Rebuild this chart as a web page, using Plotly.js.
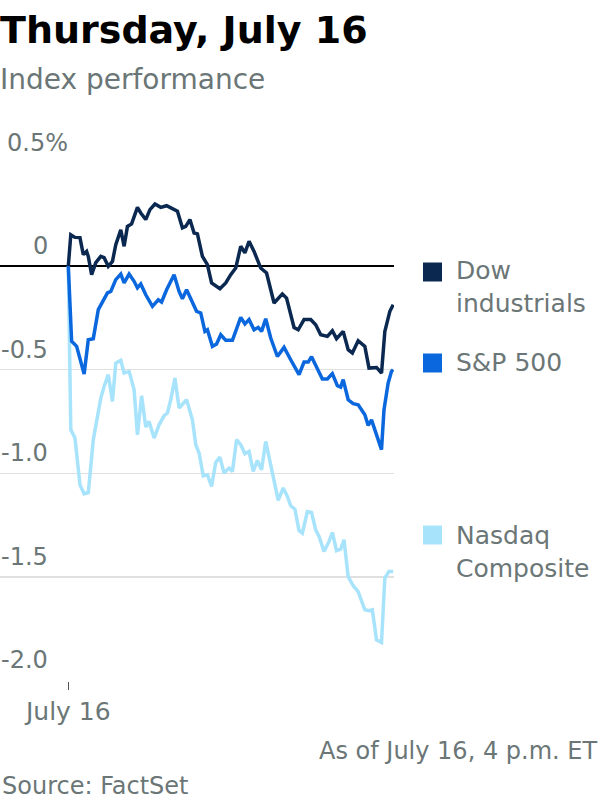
<!DOCTYPE html>
<html>
<head>
<meta charset="utf-8">
<script src="https://cdn.plot.ly/plotly-3.0.1.min.js"></script>
<style>html,body{margin:0;padding:0;background:#fff;}#chart{width:600px;height:800px;}</style>
</head>
<body>
<div id="chart"></div>
<script>
// Minutes after the 9:30 a.m. open, and % change from the prior close
const dowTime = [0,3,8,14,18,22,24,28,33,39,43,48,53,57,63,67,71,76,83,87,93,98,104,111,118,123,131,137,141,146,151,155,161,167,172,182,189,195,201,207,212,217,223,231,238,247,257,262,271,276,283,291,297,303,311,317,322,330,336,341,348,356,361,370,376,380,386,390];
const dowValues = [0,0.152,0.139,0.138,0.056,0.071,0.047,-0.041,0.017,0.047,0.041,-0.001,0.023,0.104,0.176,0.096,0.192,0.204,0.284,0.257,0.225,0.273,0.300,0.284,0.292,0.281,0.265,0.185,0.192,0.225,0.160,0.156,0.047,0.007,-0.081,-0.109,-0.081,-0.041,-0.009,0.096,0.064,0.120,0.071,-0.009,-0.033,-0.178,-0.134,-0.154,-0.296,-0.307,-0.258,-0.258,-0.283,-0.331,-0.339,-0.312,-0.350,-0.315,-0.403,-0.419,-0.360,-0.387,-0.492,-0.489,-0.516,-0.315,-0.218,-0.186];

const spTime = [0,4,10,14,19,24,30,36,42,47,51,57,63,67,73,79,83,87,93,101,108,112,118,127,133,137,142,149,154,159,164,167,173,178,183,189,197,207,212,217,223,228,232,237,243,251,259,267,277,283,288,292,299,305,311,317,323,327,330,336,342,348,356,360,364,370,376,379,384,388,390];
const spValues = [0,-0.363,-0.387,-0.443,-0.521,-0.355,-0.350,-0.210,-0.170,-0.129,-0.122,-0.065,-0.038,-0.081,-0.038,-0.073,-0.105,-0.086,-0.138,-0.194,-0.162,-0.173,-0.114,-0.041,-0.122,-0.157,-0.114,-0.170,-0.218,-0.226,-0.315,-0.307,-0.387,-0.376,-0.331,-0.358,-0.358,-0.247,-0.279,-0.258,-0.307,-0.296,-0.315,-0.254,-0.347,-0.436,-0.392,-0.452,-0.524,-0.463,-0.463,-0.437,-0.500,-0.545,-0.545,-0.519,-0.577,-0.584,-0.548,-0.645,-0.664,-0.669,-0.717,-0.769,-0.742,-0.814,-0.886,-0.693,-0.564,-0.508,-0.500];

const nasdaqTime = [0,3,8,14,19,24,30,33,39,43,48,53,57,63,67,73,79,83,88,93,97,103,109,115,119,123,128,133,142,149,153,157,162,167,172,177,182,187,193,197,202,207,212,217,222,227,232,237,245,252,258,263,267,272,277,281,287,292,297,301,307,313,317,322,327,331,336,342,348,356,361,365,370,376,380,385,390];
const nasdaqValues = [0,-0.790,-0.830,-1.056,-1.099,-1.093,-0.838,-0.774,-0.637,-0.581,-0.524,-0.653,-0.468,-0.455,-0.516,-0.508,-0.597,-0.814,-0.626,-0.777,-0.750,-0.830,-0.766,-0.722,-0.709,-0.645,-0.540,-0.685,-0.645,-0.742,-0.862,-0.902,-1.012,-1.007,-1.064,-0.948,-0.922,-0.999,-0.975,-0.991,-0.838,-0.862,-0.906,-0.895,-0.991,-0.938,-0.983,-0.846,-1.007,-1.131,-1.071,-1.112,-1.157,-1.173,-1.276,-1.289,-1.185,-1.189,-1.273,-1.305,-1.378,-1.329,-1.286,-1.374,-1.366,-1.321,-1.499,-1.543,-1.571,-1.659,-1.664,-1.659,-1.804,-1.817,-1.506,-1.474,-1.474];

const seriesNames = ['Dow industrials', 'S&P 500', 'Nasdaq Composite'];
const legendLabels = ['Dow<br>industrials', 'S&P 500', 'Nasdaq<br>Composite'];
const yTickValues = [0.5, 0, -0.5, -1.0, -1.5, -2.0];
const yTickLabels = ['0.5%', '0', '-0.5', '-1.0', '-1.5', '-2.0'];
const xTickValues = [0];
const xTickLabels = ['July 16'];
const titleText = 'Thursday, July 16';
const subtitleText = 'Index performance';
const noteText = 'As of July 16, 4 p.m. ET';
const sourceText = 'Source: FactSet';

const colors = ['#0b2850', '#0a67dd', '#a8e3fc'];
const gray = '#6b7676';
const FONT = 'DejaVu Sans, sans-serif';

// layout helpers: pixel -> paper
const PLOT_L = 0, PLOT_W = 394, PLOT_T = 162, PLOT_H = 519;
const px = X => (X - PLOT_L) / PLOT_W;
const py = Y => (PLOT_T + PLOT_H - Y) / PLOT_H;

const traces = [
  {x: nasdaqTime, y: nasdaqValues, name: seriesNames[2], line: {color: colors[2], width: 3.5}},
  {x: spTime, y: spValues, name: seriesNames[1], line: {color: colors[1], width: 3.5}},
  {x: dowTime, y: dowValues, name: seriesNames[0], line: {color: colors[0], width: 3.5}}
].map(t => Object.assign({type: 'scatter', mode: 'lines', hoverinfo: 'skip'}, t));

const annotations = [];
yTickValues.forEach((v, i) => {
  const first = i === 0;
  annotations.push({
    xref: 'paper', yref: 'y', x: first ? px(5) : px(50), y: v,
    xanchor: first ? 'left' : 'right', yanchor: 'middle', yshift: 20,
    text: yTickLabels[i], showarrow: false,
    font: {family: FONT, size: 24, color: gray}
  });
});
annotations.push({xref: 'paper', yref: 'paper', x: px(-2), y: py(30), xanchor: 'left', yanchor: 'middle',
  text: '<b>' + titleText + '</b>', showarrow: false, font: {family: FONT, size: 38, color: '#000'}});
annotations.push({xref: 'paper', yref: 'paper', x: px(-2), y: py(80), xanchor: 'left', yanchor: 'middle',
  text: subtitleText, showarrow: false, font: {family: FONT, size: 28, color: gray}});
annotations.push({xref: 'paper', yref: 'paper', x: px(599), y: py(751), xanchor: 'right', yanchor: 'middle',
  text: noteText, showarrow: false, font: {family: FONT, size: 24, color: gray}});
annotations.push({xref: 'paper', yref: 'paper', x: px(0), y: py(786), xanchor: 'left', yanchor: 'middle',
  text: sourceText, showarrow: false, font: {family: FONT, size: 24, color: gray}});

const legendCenters = [287, 362, 552];
const squareCenters = [272, 363, 535];
const legendColors = [colors[0], colors[1], colors[2]];
const shapes = [];
legendLabels.forEach((lab, i) => {
  annotations.push({xref: 'paper', yref: 'paper', x: px(454), y: py(legendCenters[i]), xanchor: 'left', yanchor: 'middle',
    align: 'left', text: lab, showarrow: false, font: {family: FONT, size: 25, color: gray}});
  shapes.push({type: 'rect', xref: 'paper', yref: 'paper', x0: px(423), x1: px(442),
    y0: py(squareCenters[i] + 9.5), y1: py(squareCenters[i] - 9.5), fillcolor: legendColors[i], line: {width: 0}});
});

const layout = {
  width: 600, height: 800,
  margin: {l: PLOT_L, r: 600 - PLOT_W, t: PLOT_T, b: 800 - PLOT_T - PLOT_H, pad: 0},
  paper_bgcolor: '#fff', plot_bgcolor: '#fff',
  showlegend: false,
  xaxis: {
    range: [-82, 391], showgrid: false, zeroline: false, showline: false,
    tickmode: 'array', tickvals: xTickValues, ticktext: xTickLabels,
    ticks: 'outside', ticklen: 8, tickwidth: 1.5, tickcolor: '#555',
    tickfont: {family: FONT, size: 25, color: gray}, fixedrange: true
  },
  yaxis: {
    range: [-2.003, 0.503], tickmode: 'array', tickvals: yTickValues, showticklabels: false,
    showgrid: true, gridcolor: '#e0e0e0', gridwidth: 1.5,
    zeroline: true, zerolinecolor: '#000', zerolinewidth: 2,
    showline: false, ticks: '', fixedrange: true
  },
  annotations: annotations,
  shapes: shapes
};

Plotly.newPlot('chart', traces, layout, {staticPlot: true, displayModeBar: false});
</script>
</body>
</html>
